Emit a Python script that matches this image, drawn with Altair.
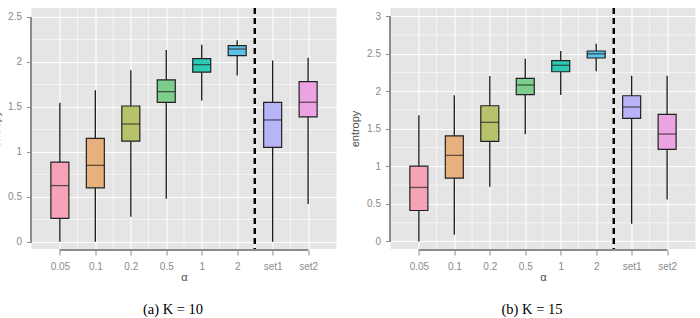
import altair as alt
import pandas as pd

# Categories on the alpha axis (two reference sets after the dashed separator)
categories = ["0.05", "0.1", "0.2", "0.5", "1", "2", "set1", "set2"]
box_colors = ["#F5A3B7", "#E8B07C", "#B8C26B", "#7DCD8D",
              "#2DCBB6", "#5CC1E7", "#B9B3F7", "#EBA3E2"]

# K = 10: whisker ends, quartiles and medians of the entropy
k10_low = [0.00, 0.00, 0.28, 0.48, 1.57, 1.85, 0.00, 0.42]
k10_q1 = [0.26, 0.60, 1.12, 1.55, 1.886, 2.07, 1.05, 1.39]
k10_med = [0.625, 0.85, 1.31, 1.67, 1.97, 2.144, 1.355, 1.552]
k10_q3 = [0.886, 1.15, 1.51, 1.80, 2.038, 2.182, 1.55, 1.782]
k10_high = [1.545, 1.686, 1.908, 2.134, 2.19, 2.24, 2.015, 2.048]

# K = 15
k15_low = [0.00, 0.09, 0.73, 1.43, 1.95, 2.267, 0.235, 0.56]
k15_q1 = [0.413, 0.844, 1.333, 1.955, 2.261, 2.444, 1.64, 1.227]
k15_med = [0.72, 1.147, 1.587, 2.084, 2.347, 2.50, 1.791, 1.431]
k15_q3 = [1.004, 1.408, 1.808, 2.173, 2.408, 2.537, 1.941, 1.693]
k15_high = [1.68, 1.947, 2.204, 2.435, 2.537, 2.635, 2.208, 2.208]

positions = list(range(1, len(categories) + 1))
label_array = "[" + ",".join(f"'{c}'" for c in categories) + "]"

GRID = "white"
AXIS_GRAY = "#8C8C8C"
DARK = "#222222"
BOX_W = 18


def panel(low, q1, med, q3, high, ydomain, yticks, yminor, caption):
    df = pd.DataFrame({"cat": categories, "pos": positions, "low": low,
                       "q1": q1, "med": med, "q3": q3, "high": high})
    xs = alt.Scale(domain=[0.2, 8.8], nice=False, zero=False, padding=0)
    ys = alt.Scale(domain=ydomain, nice=False, zero=False, padding=0)

    x_axis = alt.Axis(values=positions, labelExpr=f"{label_array}[datum.value-1]",
                      title="α", grid=True, gridColor=GRID, gridWidth=1.1,
                      domain=False, tickColor=AXIS_GRAY, tickSize=5, offset=1,
                      labelPadding=6, labelOverlap=False, labelFlush=False,
                      titlePadding=0, titleFontSize=11)
    y_axis = alt.Axis(values=yticks, labelExpr="toString(datum.value)", title="entropy",
                      grid=True, gridColor=GRID, gridWidth=1.1, domain=False,
                      tickColor=AXIS_GRAY, tickSize=5, labelPadding=5, labelFlush=False,
                      labelOverlap=False, titlePadding=6, titleFontSize=11)

    # minor grid lines halfway between categories and between y ticks
    xminor = pd.DataFrame({"v": [p + 0.5 for p in positions[:-1]]})
    yminor_df = pd.DataFrame({"v": yminor})
    minor_x = alt.Chart(xminor).mark_rule(color=GRID, strokeWidth=0.6).encode(
        x=alt.X("v:Q", scale=xs, axis=x_axis))
    minor_y = alt.Chart(yminor_df).mark_rule(color=GRID, strokeWidth=0.6).encode(
        y=alt.Y("v:Q", scale=ys, axis=y_axis))

    whiskers = alt.Chart(df).mark_rule(color="#1A1A1A", strokeWidth=1.3).encode(
        x=alt.X("pos:Q", scale=xs),
        y=alt.Y("low:Q", scale=ys),
        y2="high:Q",
    )
    boxes = alt.Chart(df).mark_bar(size=BOX_W, stroke=DARK, strokeWidth=1.2).encode(
        x=alt.X("pos:Q", scale=xs),
        y=alt.Y("q1:Q", scale=ys),
        y2="q3:Q",
        color=alt.Color("cat:N", scale=alt.Scale(domain=categories, range=box_colors),
                        legend=None),
    )
    medians = alt.Chart(df).mark_tick(orient="horizontal", size=BOX_W, thickness=1.3,
                                      color=DARK).encode(
        x=alt.X("pos:Q", scale=xs),
        y=alt.Y("med:Q", scale=ys),
    )
    separator = alt.Chart(df).mark_rule(color="black", strokeWidth=2,
                                        strokeDash=[6, 4]).encode(x=alt.datum(6.5))
    # range-frame axis lines spanning first to last tick
    yline = alt.Chart(df).mark_rule(color=AXIS_GRAY, strokeWidth=1, xOffset=-0.5).encode(
        x=alt.datum(0.2), y=alt.datum(yticks[0]), y2=alt.datum(yticks[-1]))
    xline = alt.Chart(df).mark_rule(color=AXIS_GRAY, strokeWidth=1, yOffset=1).encode(
        y=alt.datum(ydomain[0]), x=alt.datum(positions[0]), x2=alt.datum(positions[-1]))

    return alt.layer(minor_x, minor_y, whiskers, boxes, medians, separator, yline, xline
                     ).properties(
        width=305, height=241,
        title=alt.TitleParams(caption, orient="bottom", anchor="middle", frame="group",
                              dx=-11, font="Liberation Serif", fontSize=14.5,
                              fontWeight="normal", color="black", offset=21),
    )


left = panel(k10_low, k10_q1, k10_med, k10_q3, k10_high, [-0.08, 2.6],
             [0, 0.5, 1, 1.5, 2, 2.5], [0.25, 0.75, 1.25, 1.75, 2.25],
             "(a)  K = 10")
right = panel(k15_low, k15_q1, k15_med, k15_q3, k15_high, [-0.1, 3.11],
              [0, 0.5, 1, 1.5, 2, 2.5, 3], [0.25, 0.75, 1.25, 1.75, 2.25, 2.75],
              "(b)  K = 15")

chart = alt.hconcat(left, right, spacing=12).properties(
    padding={"left": -9.5, "top": 7, "right": 0, "bottom": 0}
).configure_view(fill="#E5E5E5", stroke=None).configure_axis(
    labelFont="Liberation Sans", labelFontSize=10, labelColor="#8A8A8A",
    titleFont="Liberation Sans", titleFontWeight="normal", titleColor="#4D4D4D",
)

chart.save("out.html", embed_options={"renderer": "svg", "actions": False})
